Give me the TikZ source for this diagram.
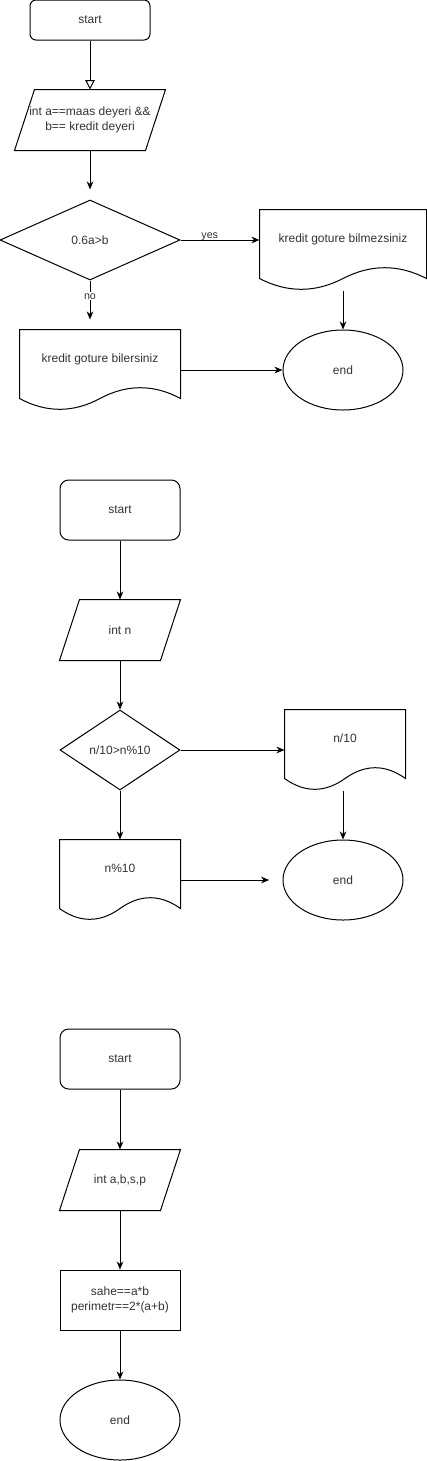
\documentclass[tikz,border=0pt]{standalone}
\usepackage{fontspec}
\setmainfont{Liberation Sans}
\usetikzlibrary{shapes.geometric, arrows.meta, calc}

\tikzset{
    base/.style={font=\fontsize{9}{11.25}\selectfont, text=black!80, align=center, inner sep=0pt},
    startbox/.style={base, draw, rounded corners=4.5pt, minimum width=90pt, minimum height=30pt},
    iobox/.style={base, minimum width=#1, minimum height=45pt},
    decbox/.style={base, draw, diamond, aspect=1.5, minimum width=#1, minimum height=60pt},
    docbox/.style={base, minimum width=#1, minimum height=60pt, text height=7pt, text depth=19pt},
    endbox/.style={base, draw, ellipse, minimum width=90pt, minimum height=60pt},
    procbox/.style={base, draw, minimum width=90pt, minimum height=45pt},
    arr/.style={-{Stealth[length=6pt, width=5pt, inset=1.8pt]}},
    lbl/.style={font=\fontsize{8}{9}\selectfont, text=black!80, inner sep=1pt}
}

% Paralelogramo (entrada)
\newcommand{\ioshape}[1]{%
    \draw ($(#1.north west)+(10,0)$) -- ($(#1.north east)+(10,0)$)
        -- ($(#1.south east)+(-10,0)$) -- ($(#1.south west)+(-10,0)$) -- cycle;}
% Documento (borde ondulado)
\newcommand{\docshape}[1]{%
    \draw ($(#1.south west)+(0,-12)$) -- (#1.north west) -- (#1.north east) -- ($(#1.south east)+(0,-12)$)
        .. controls ($(#1.south west)!0.8333!(#1.south east)+(0,-26.4)$) and ($(#1.south west)!0.6667!(#1.south east)+(0,-26.4)$) .. ($(#1.south west)!0.5!(#1.south east)+(0,-12)$)
        .. controls ($(#1.south west)!0.3333!(#1.south east)+(0,2.4)$) and ($(#1.south west)!0.1667!(#1.south east)+(0,2.4)$) .. ($(#1.south west)+(0,-12)$) -- cycle;}

\begin{document}
\begin{tikzpicture}[x=0.75pt, y=-0.75pt, line width=0.75pt]
    \useasboundingbox (0,0) rectangle (427,1461);

    % Diagrama 1
    \node[startbox] (start1) at (90,20) {start};
    \node[iobox=97.5pt] (in1) at (90,120) {int a==maas deyeri \&\&\\b== kredit deyeri};
    \node[decbox=135pt, aspect=2.25] (dec1) at (90,240) {0.6a>b};
    \node[docbox=124.5pt] (yes1) at (343,250) {kredit goture bilmezsiniz};
    \node[docbox=120pt] (no1) at (100,370) {kredit goture bilersiniz};
    \node[endbox] (end1) at (343,370) {end};
    \ioshape{in1}
    \docshape{yes1}
    \docshape{no1}
    % Flechas
    \draw[-{Triangle[open, length=7pt, width=7pt]}] (start1) -- (in1);
    \draw[arr, shorten >=7.5pt] (in1) -- (dec1);
    \draw[arr] (dec1.east) -- node[lbl, pos=0.37, anchor=base, yshift=1pt] {yes} (dec1.east -| yes1.west);
    \draw[arr, shorten >=7.5pt] (dec1.south) -- node[lbl, pos=0.32, fill=white] {no} (dec1.south |- no1.north);
    \draw[arr] (yes1.south) -- (end1.north);
    \draw[arr] (no1.east) -- (end1.west);

    % Diagrama 2
    \node[startbox, minimum height=45pt, rounded corners=6.5pt] (start2) at (120,510) {start};
    \node[iobox=75pt] (in2) at (120,630) {int n};
    \node[decbox=90pt] (dec2) at (120,750) {n/10>n\%10};
    \node[docbox=90pt] (yes2) at (345,750) {n/10};
    \node[docbox=90pt] (no2) at (120,880) {n\%10};
    \node[endbox] (end2) at (343,880) {end};
    \ioshape{in2}
    \docshape{yes2}
    \docshape{no2}
    % Flechas
    \draw[arr] (start2) -- (in2);
    \draw[arr] (in2) -- (dec2);
    \draw[arr] (dec2.east) -- (yes2.west);
    \draw[arr] (end2.north |- yes2.south) -- (end2.north);
    \draw[arr] (dec2.south) -- (no2.north);
    \draw[arr, shorten >=10pt] (no2.east) -- (end2.west);

    % Diagrama 3
    \node[startbox, minimum height=45pt, rounded corners=6.5pt] (start3) at (120,1059) {start};
    \node[iobox=75pt] (in3) at (120,1180) {int a,b,s,p};
    \node[procbox] (proc3) at (120,1300) {sahe==a*b\\perimetr==2*(a+b)};
    \node[endbox] (end3) at (120,1420) {end};
    \ioshape{in3}
    % Flechas
    \draw[arr] (start3) -- (in3);
    \draw[arr] (in3) -- (proc3);
    \draw[arr] (proc3) -- (end3);
\end{tikzpicture}
\end{document}
